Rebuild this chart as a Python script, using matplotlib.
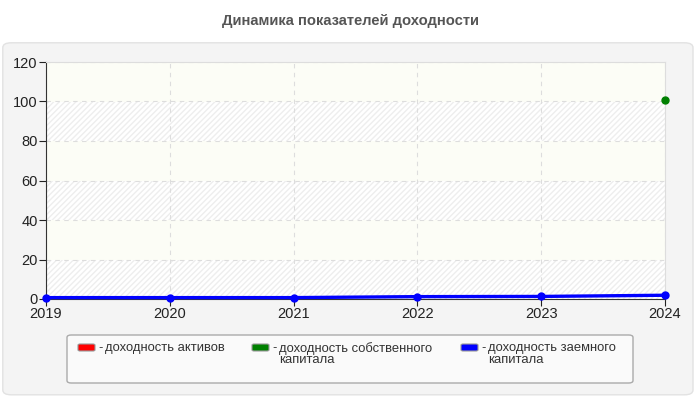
import numpy as np
import matplotlib.pyplot as plt
from matplotlib.patches import FancyBboxPatch, Rectangle

plt.rcParams['font.family'] = ['Liberation Sans', 'DejaVu Sans']

# data
years = [2019, 2020, 2021, 2022, 2023, 2024]
assets = [0.7, 0.7, 0.7, 1.2, 1.3, 1.9]               # доходность активов (hidden under blue)
equity = [np.nan, np.nan, np.nan, np.nan, np.nan, 101]  # доходность собственного капитала
debt = [0.7, 0.7, 0.7, 1.2, 1.3, 1.9]                 # доходность заемного капитала
y_ticks = [0, 20, 40, 60, 80, 100, 120]

fig = plt.figure(figsize=(7, 4), dpi=100)
fig.patch.set_facecolor('white')

# outer gray panel
panel = FancyBboxPatch((0.004, 0.013), 0.986, 0.88, boxstyle="round,pad=0,rounding_size=0.012",
                       transform=fig.transFigure, facecolor='#f4f4f4', edgecolor='#e2e2e2', lw=1,
                       zorder=-5)
fig.patches.append(panel)

fig.text(0.5, 0.948, "Динамика показателей доходности", ha='center', va='center',
         fontsize=10.6, fontweight='bold', color='#555555')

ax = fig.add_axes([46/700, 1 - 299/400, (665 - 46)/700, (299 - 62)/400])
ax.set_facecolor('white')
ax.set_zorder(2)

# alternating bands
for i in range(len(y_ticks) - 1):
    lo, hi = y_ticks[i], y_ticks[i + 1]
    if i % 2 == 0:
        ax.add_patch(Rectangle((years[0], lo), years[-1] - years[0], hi - lo, facecolor='white',
                               edgecolor='#eeeeee', hatch='//////', lw=0, zorder=0))
    else:
        ax.add_patch(Rectangle((years[0], lo), years[-1] - years[0], hi - lo, facecolor='#fcfdf6',
                               lw=0, zorder=0))

ax.grid(True, color='#dddddd', linestyle=(0, (4, 4)), lw=0.8, zorder=1)

ax.plot(years, assets, color='red', lw=1.2, marker='o', ms=4, zorder=3, clip_on=False)
ax.plot(years, equity, color='green', lw=2, marker='o', ms=5, zorder=3, clip_on=False)
ax.plot(years, debt, color='blue', lw=2.4, marker='o', ms=5, zorder=4, clip_on=False)

ax.set_xlim(years[0], years[-1])
ax.set_ylim(0, 120)
ax.set_xticks(years)
ax.set_yticks(y_ticks)
ax.tick_params(labelsize=10.5, colors='#222222', length=5, width=0.8, direction='out', pad=1)
for s in ['top', 'right']:
    ax.spines[s].set_color('#dddddd')
for s in ['left', 'bottom']:
    ax.spines[s].set_color('#333333')

# legend box
leg = FancyBboxPatch((67/700, 1 - 383/400), (633 - 67)/700, 48/400,
                     boxstyle="round,pad=0,rounding_size=0.006", transform=fig.transFigure,
                     facecolor='#fafafa', edgecolor='#aaaaaa', lw=1, zorder=-4)
fig.patches.append(leg)

entries = [('red', 78, "доходность активов", ""),
           ('green', 252, "доходность собственного", "капитала"),
           ('blue', 461, "доходность заемного", "капитала")]
for color, x, line1, line2 in entries:
    fig.patches.append(FancyBboxPatch((x/700, 1 - 351/400), 17/700, 7/400,
                                      boxstyle="round,pad=0,rounding_size=0.003",
                                      transform=fig.transFigure, facecolor=color,
                                      edgecolor='#999999', lw=0.8, zorder=-3))
    fig.text((x + 20)/700, 1 - 342/400, "-", ha='left', va='top', fontsize=9.4, color='#333333')
    fig.text((x + 27)/700, 1 - 342/400, line1, ha='left', va='top', fontsize=9.4, color='#333333')
    if line2:
        fig.text((x + 27)/700, 1 - 354/400, line2, ha='left', va='top', fontsize=9.4,
                 color='#333333')

fig.savefig('out.png', dpi=100)
